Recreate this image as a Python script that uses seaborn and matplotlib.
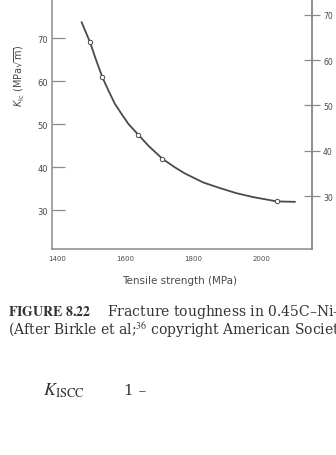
import matplotlib
matplotlib.use("Agg")

import numpy as np
import pandas as pd
import matplotlib.pyplot as plt
import seaborn as sns

# values
curve_strength = [1472, 1497, 1512, 1533, 1551, 1570, 1590, 1610, 1639, 1668,
                  1710, 1747, 1776, 1830, 1879, 1928, 1977, 2026, 2046, 2100]
curve_kic = [73.7, 69.0, 65.5, 60.9, 57.8, 54.7, 52.3, 50.0, 47.5, 45.0,
             41.9, 39.9, 38.5, 36.4, 35.1, 33.9, 33.0, 32.3, 32.0, 31.9]
point_strength = [1497, 1533, 1639, 1710, 2046]
point_kic = [69.0, 60.9, 47.5, 41.9, 32.0]

x_ticks = [1400, 1600, 1800, 2000]
left_ticks = [30, 40, 50, 60, 70, 80]
right_ticks = [30, 40, 50, 60, 70]

curve = pd.DataFrame({"strength": curve_strength, "kic": curve_kic})
points = pd.DataFrame({"strength": point_strength, "kic": point_kic})

sns.set_theme(style="white")
plt.rcParams["font.family"] = ["DejaVu Sans"]

ink = "#4a4a4a"
axis_ink = "#8a8a8a"

fig = plt.figure(figsize=(3.36, 4.56), dpi=100)
ax = fig.add_axes([52 / 336, 1 - 250 / 456, 260 / 336, 260 / 456])

sns.lineplot(data=curve, x="strength", y="kic", ax=ax, color=ink, lw=1.3)
sns.scatterplot(data=points, x="strength", y="kic", ax=ax, marker="o", s=10,
                facecolor="white", edgecolor=ink, linewidth=0.7, zorder=3)

ax.set_xlim(1385, 2150)
ax.set_ylim(20.93, 81.4)
ax.set_xticks(x_ticks + [2075])
ax.set_xticklabels([str(t) for t in x_ticks] + [""])
ax.set_yticks(left_ticks)
ax.tick_params(axis="x", direction="in", length=7, width=0.9, color=axis_ink,
               labelsize=5, labelcolor=ink, pad=4)
ax.tick_params(axis="y", direction="in", length=9, width=0.9, color=axis_ink,
               labelsize=6, labelcolor=ink, pad=3)

for side in ["left", "bottom", "right"]:
    ax.spines[side].set_color(axis_ink)
    ax.spines[side].set_linewidth(1.1)
ax.spines["top"].set_visible(False)

ax.set_xlabel("Tensile strength (MPa)", fontsize=7.5, color=ink)
ax.xaxis.set_label_coords(0.492, -0.1)
ax.set_ylabel(r"$K_{\rm Ic}$ (MPa$\sqrt{\rm m}$)", fontsize=7, color=ink)
ax.yaxis.set_label_coords(-0.096, 0.669)

ax2 = ax.twinx()
ax2.set_ylim(18.3, 75.7)
ax2.set_yticks(right_ticks)
ax2.tick_params(axis="y", direction="inout", length=12, width=0.9, color=axis_ink,
                labelsize=5.5, labelcolor=ink, pad=2)
for side in ["left", "bottom", "top"]:
    ax2.spines[side].set_visible(False)
ax2.spines["right"].set_color(axis_ink)
ax2.spines["right"].set_linewidth(1.1)
ax2.grid(False)

serif = ["DejaVu Serif"]
caption = (r"$\mathbf{FIGURE\ 8.22}$    Fracture toughness in 0.45C" "\u2013Ni\u2013Cr\u2013Mo steel." "\n"
           r"(After Birkle et al;$^{36}$ copyright American Society for Metals.)")
fig.text(8 / 336, 1 - 321.5 / 456, caption, fontsize=10, family=serif,
         math_fontfamily="stix", color="#333333", va="center", linespacing=0.9)
fig.text(43 / 336, 1 - 391 / 456, r"$K_{\rm ISCC}$", fontsize=13,
         family=serif, math_fontfamily="stix", color="#333333", va="center")
fig.text(124 / 336, 1 - 391 / 456, "1 \u2013", fontsize=11,
         family=serif, color="#333333", va="center")

fig.savefig("out.png", dpi=100)
plt.close(fig)
